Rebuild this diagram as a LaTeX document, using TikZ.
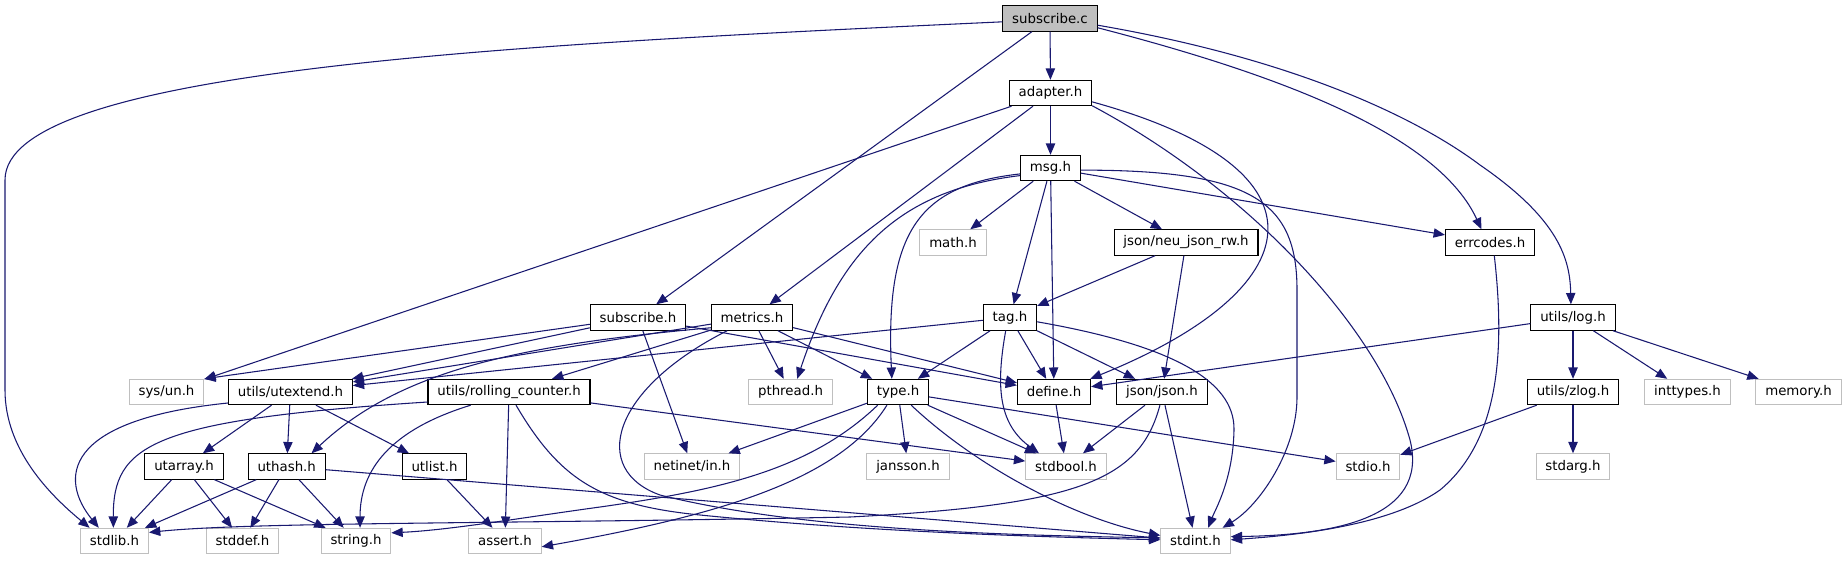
\documentclass[tikz,border=0pt]{standalone}
\usepackage{fontspec}
\setmainfont{DejaVu Sans}
\usetikzlibrary{arrows.meta}
\definecolor{navyline}{HTML}{191970}
\definecolor{greyline}{HTML}{BFBFBF}

\tikzset{
  hdr/.style={draw=black, fill=white, line width=0.8pt, inner xsep=7pt, inner ysep=0pt,
    minimum height=19pt, font=\fontsize{10}{12}\selectfont},
  syshdr/.style={hdr, draw=greyline},
  mainfile/.style={hdr, fill=greyline},
  incl/.style={draw=navyline, line width=0.8pt, -{Triangle[length=8.5pt,width=7pt]}},
}

\begin{document}
\begin{tikzpicture}[x=0.75pt,y=-0.75pt]
    \useasboundingbox (0,0) rectangle (1847,560);
    % headers
    \node[mainfile] (subc) at (1050,18.5) {subscribe.c};
    \node[hdr] (adapter) at (1050.5,93) {adapter.h};
    \node[hdr] (msg) at (1050.5,168) {msg.h};
    \node[syshdr] (mathh) at (953,242.5) {math.h};
    \node[hdr] (neujson) at (1186,242.5) {json/neu\_json\_rw.h};
    \node[hdr] (errcodes) at (1490,242.5) {errcodes.h};
    \node[hdr] (subh) at (638,317.5) {subscribe.h};
    \node[hdr] (metrics) at (752,317.5) {metrics.h};
    \node[hdr] (tag) at (1010,317.5) {tag.h};
    \node[hdr] (utilslog) at (1573,317.5) {utils/log.h};
    \node[syshdr] (sysun) at (166.5,392) {sys/un.h};
    \node[hdr] (utextend) at (290.4,392) {utils/utextend.h};
    \node[hdr] (rollcnt) at (509,392) {utils/rolling\_counter.h};
    \node[syshdr] (pthread) at (790.5,392) {pthread.h};
    \node[hdr] (typeh) at (898,392) {type.h};
    \node[hdr] (define) at (1054,392) {define.h};
    \node[hdr] (jsonh) at (1162,392) {json/json.h};
    \node[hdr] (zlog) at (1573,392) {utils/zlog.h};
    \node[syshdr] (inttypes) at (1687.5,392) {inttypes.h};
    \node[syshdr] (memory) at (1798.5,392) {memory.h};
    \node[hdr] (utarray) at (184,466.5) {utarray.h};
    \node[hdr] (uthash) at (286.7,466.5) {uthash.h};
    \node[hdr] (utlist) at (434.5,466.5) {utlist.h};
    \node[syshdr] (netinet) at (692,466.5) {netinet/in.h};
    \node[syshdr] (jansson) at (908,466.5) {jansson.h};
    \node[syshdr] (stdbool) at (1066,466.5) {stdbool.h};
    \node[syshdr] (stdio) at (1368,466.5) {stdio.h};
    \node[syshdr] (stdarg) at (1573,466.5) {stdarg.h};
    \node[syshdr] (stdlib) at (114.5,541) {stdlib.h};
    \node[syshdr] (stddef) at (242.5,541) {stddef.h};
    \node[syshdr] (stringh) at (356,541) {string.h};
    \node[syshdr] (asserth) at (505,541) {assert.h};
    \node[syshdr] (stdint) at (1195.5,541) {stdint.h};

    % straight includes
    \foreach \a/\b in {subc/subh, subc/adapter, adapter/msg, adapter/sysun, adapter/metrics,
        msg/mathh, msg/neujson, msg/errcodes, msg/tag, msg/define, neujson/tag, neujson/jsonh,
        subh/utextend, subh/netinet, subh/define, metrics/utextend, metrics/rollcnt,
        metrics/pthread, metrics/typeh, metrics/define, tag/utextend, tag/typeh, tag/define,
        tag/jsonh, utilslog/define, utilslog/zlog, utilslog/inttypes, utilslog/memory,
        utextend/utarray, utextend/uthash, utextend/utlist, rollcnt/asserth, rollcnt/stdbool,
        typeh/netinet, typeh/jansson, typeh/stdbool, typeh/stdio, define/stdbool,
        jsonh/stdbool, jsonh/stdint, zlog/stdio, zlog/stdarg, utarray/stdlib, utarray/stddef,
        utarray/stringh, uthash/stdlib, uthash/stddef, uthash/stringh, uthash/stdint,
        utlist/asserth}{
        \draw[incl] (\a) -- (\b);
    }
    \draw[incl] (subh) -- (sysun.north east);

    % curved includes
    \draw[incl] (subc.184) .. controls (500,45) and (5,70) .. (5,180) -- (5,390)
        .. controls (5,450) and (50,495) .. (stdlib.152);
    \draw[incl] (subc.-11) .. controls (1300,80) and (1440,140) .. (errcodes.123);
    \draw[incl] (subc.-8) .. controls (1300,60) and (1420,120) .. (1480,165)
        .. controls (1560,220) and (1570,260) .. (utilslog.99);
    \draw[incl] (adapter.-12) .. controls (1340,170) and (1310,290) .. (define.20);
    \draw[incl] (adapter.-17) .. controls (1250,190) and (1380,330) .. (1410,440)
        .. controls (1430,520) and (1330,535) .. (stdint.7);
    \draw[incl] (msg.-4) .. controls (1250,170) and (1297,200) .. (1297,290) -- (1297,397)
        .. controls (1297,450) and (1260,505) .. (stdint.26);
    \draw[incl] (msg.191) .. controls (920,185) and (885,230) .. (typeh.115);
    \draw[incl] (msg.194) .. controls (900,190) and (840,250) .. (pthread.63);
    \draw[incl] (tag.252) .. controls (995,390) and (1000,425) .. (stdbool.154);
    \draw[incl] (tag.-9) .. controls (1170,345) and (1235,380) .. (1234,430)
        .. controls (1233,480) and (1215,510) .. (stdint.46);
    \draw[incl] (metrics.194) .. controls (520,345) and (400,370) .. (uthash.28);
    \draw[incl] (metrics.208) .. controls (610,390) and (590,470) .. (660,495)
        .. controls (800,530) and (1000,535) .. (stdint.175);
    \draw[incl] (typeh.213) .. controls (810,470) and (720,490) .. (600,507)
        .. controls (520,518) and (450,530) .. (stringh.13);
    \draw[incl] (typeh.230) .. controls (840,480) and (720,515) .. (asserth.-9);
    \draw[incl] (typeh.-45) .. controls (980,470) and (1080,520) .. (stdint.171);
    \draw[incl] (utextend.190) .. controls (60,420) and (60,480) .. (stdlib.140);
    \draw[incl] (rollcnt.187) .. controls (150,420) and (113,445) .. (stdlib.95);
    \draw[incl] (rollcnt.199) .. controls (390,430) and (360,470) .. (stringh.73);
    \draw[incl] (rollcnt.-62) .. controls (560,480) and (600,505) .. (700,515)
        .. controls (850,530) and (1000,536) .. (stdint.178);
    \draw[incl] (jsonh.261) .. controls (1140,480) and (1080,505) .. (850,517)
        .. controls (500,524) and (250,522) .. (stdlib.14);
    \draw[incl] (errcodes.-72) .. controls (1505,350) and (1500,440) .. (1440,490)
        .. controls (1390,525) and (1300,535) .. (stdint.2);
\end{tikzpicture}
\end{document}
